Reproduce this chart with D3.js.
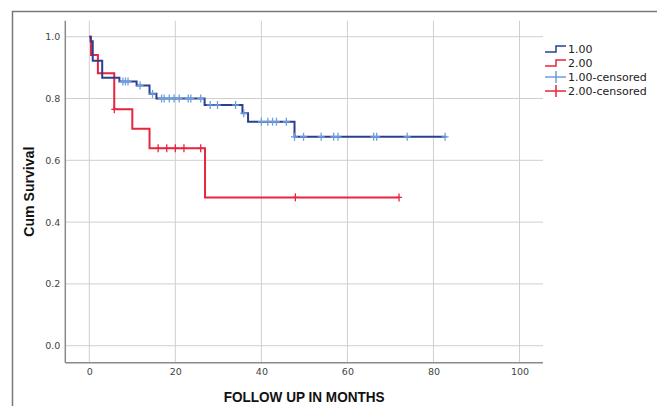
<!DOCTYPE html>
<html>
<head>
<meta charset="utf-8">
<script src="https://cdn.jsdelivr.net/npm/d3@7"></script>
<style>
  body { margin: 0; background: #fff; }
  svg { display: block; }
</style>
</head>
<body>
<div id="chart"></div>
<script>
// group 1.00 - step times (months) and cumulative survival after each step
const g1Times = [0, 0.3, 0.8, 3, 7, 11, 14, 15.6, 26.8, 35.6, 36.9, 47.7];
const g1Surv = [1, 0.985, 0.922, 0.867, 0.855, 0.842, 0.815, 0.800, 0.779, 0.752, 0.725, 0.676];
const g1End = 83;
const g1Censored = [7.8, 8.4, 9.0, 11.8, 14.7, 16.8, 17.4, 18.6, 19.7, 20.9, 23.0, 23.6, 25.9,
  28.1, 29.8, 34.0, 35.9, 40.0, 41.5, 42.6, 43.5, 45.8, 47.7, 49.8, 53.9, 56.8, 57.8,
  66.1, 66.8, 73.9, 82.7];

// group 2.00
const g2Times = [0, 0.4, 2, 5.8, 10, 14, 26.9];
const g2Surv = [1, 0.941, 0.882, 0.765, 0.702, 0.639, 0.480];
const g2End = 72;
const g2Censored = [5.8, 16, 18, 20, 22, 25.9, 47.9, 72];

const xTicks = [0, 20, 40, 60, 80, 100];
const yTicks = [0, 0.2, 0.4, 0.6, 0.8, 1.0];
const legendLabels = ['1.00', '2.00', '1.00-censored', '2.00-censored'];

const W = 657, H = 406;
const blueLine = '#2c3f8f', blueCens = '#6b9fe0', redLine = '#e8253f';

const svg = d3.select('#chart').append('svg')
  .attr('width', W).attr('height', H);

svg.append('rect').attr('width', W).attr('height', H).attr('fill', '#fff');

// outer frame (left and top edges visible)
svg.append('path')
  .attr('d', 'M12.5,' + H + 'V11.5H' + W)
  .attr('fill', 'none').attr('stroke', '#777').attr('stroke-width', 1.5);

const x = d3.scaleLinear().domain([0, 100]).range([89.3, 519.5]);
const y = d3.scaleLinear().domain([0, 1]).range([345.7, 36.7]);

const plot = { left: 65.3, right: 543, top: 20.7, bottom: 362.7 };

// grid
svg.append('g').selectAll('line').data(xTicks).enter().append('line')
  .attr('x1', d => x(d)).attr('x2', d => x(d))
  .attr('y1', plot.top).attr('y2', plot.bottom)
  .attr('stroke', '#cfcfcf').attr('stroke-width', 1);
svg.append('g').selectAll('line').data(yTicks).enter().append('line')
  .attr('y1', d => y(d)).attr('y2', d => y(d))
  .attr('x1', plot.left).attr('x2', plot.right)
  .attr('stroke', '#cfcfcf').attr('stroke-width', 1);

// axes
svg.append('g')
  .attr('transform', 'translate(0,' + plot.bottom + ')')
  .call(d3.axisBottom(x).tickValues(xTicks).tickSize(0).tickPadding(6))
  .call(g => g.select('.domain').attr('d', 'M' + plot.left + ',0H' + plot.right)
    .attr('stroke', '#8a8a8a').attr('stroke-width', 1.5))
  .call(g => g.selectAll('.tick text').attr('fill', '#444')
    .style('font', '9.5px "DejaVu Sans", sans-serif'));

svg.append('g')
  .attr('transform', 'translate(' + plot.left + ',0)')
  .call(d3.axisLeft(y).tickValues(yTicks).tickFormat(d3.format('.1f')).tickSize(0).tickPadding(5))
  .call(g => g.select('.domain').attr('d', 'M0,' + plot.top + 'V' + plot.bottom)
    .attr('stroke', '#8a8a8a').attr('stroke-width', 1.5))
  .call(g => g.selectAll('.tick text').attr('fill', '#444')
    .style('font', '9.5px "DejaVu Sans", sans-serif'));

// axis titles
svg.append('text')
  .attr('x', (plot.left + plot.right) / 2).attr('y', 402)
  .attr('text-anchor', 'middle')
  .attr('textLength', 161).attr('lengthAdjust', 'spacingAndGlyphs')
  .style('font', 'bold 15px "Liberation Sans", sans-serif')
  .attr('fill', '#111')
  .text('FOLLOW UP IN MONTHS');

svg.append('text')
  .attr('transform', 'translate(34,' + ((plot.top + plot.bottom) / 2) + ') rotate(-90)')
  .attr('text-anchor', 'middle')
  .attr('textLength', 90).attr('lengthAdjust', 'spacingAndGlyphs')
  .style('font', 'bold 15px "Liberation Sans", sans-serif')
  .attr('fill', '#111')
  .text('Cum Survival');

// survival step curves
function stepPoints(times, surv, end) {
  const pts = times.map((t, i) => [t, surv[i]]);
  pts.push([end, surv[surv.length - 1]]);
  return pts;
}
function survAt(times, surv, t) {
  let s = surv[0];
  times.forEach((tt, i) => { if (t >= tt) s = surv[i]; });
  return s;
}

const line = d3.line().curve(d3.curveStepAfter)
  .x(d => x(d[0])).y(d => y(d[1]));

svg.append('path')
  .datum(stepPoints(g2Times, g2Surv, g2End))
  .attr('d', line).attr('fill', 'none')
  .attr('stroke', redLine).attr('stroke-width', 2);

svg.append('path')
  .datum(stepPoints(g1Times, g1Surv, g1End))
  .attr('d', line).attr('fill', 'none')
  .attr('stroke', blueLine).attr('stroke-width', 2);

// censor marks
function censorMarks(times, surv, cens, color, hw) {
  const g = svg.append('g').attr('stroke', color).attr('stroke-width', 1.3);
  cens.forEach(t => {
    const cx = x(t), cy = y(survAt(times, surv, t));
    g.append('line').attr('x1', cx).attr('x2', cx).attr('y1', cy - 4).attr('y2', cy + 4);
    g.append('line').attr('x1', cx - hw).attr('x2', cx + hw).attr('y1', cy).attr('y2', cy);
  });
}
censorMarks(g2Times, g2Surv, g2Censored, redLine, 3);
censorMarks(g1Times, g1Surv, g1Censored, blueCens, 3.5);

// legend
const legX = 545, legY = [49, 63, 77, 91];
const leg = svg.append('g');
const legColors = [blueLine, redLine, blueCens, redLine];
legendLabels.forEach((lab, i) => {
  const cy = legY[i];
  if (i < 2) {
    leg.append('path')
      .attr('d', 'M' + legX + ',' + (cy + 3) + 'H' + (legX + 11) + 'V' + (cy - 3) + 'H' + (legX + 21))
      .attr('fill', 'none').attr('stroke', legColors[i]).attr('stroke-width', 1.5);
  } else {
    leg.append('path')
      .attr('d', 'M' + legX + ',' + cy + 'H' + (legX + 21) + 'M' + (legX + 11) + ',' + (cy - 6) + 'V' + (cy + 6))
      .attr('fill', 'none').attr('stroke', legColors[i]).attr('stroke-width', 1.5);
  }
  leg.append('text')
    .attr('x', legX + 23).attr('y', cy).attr('dy', '0.35em')
    .attr('fill', '#222')
    .style('font', '11px "DejaVu Sans", sans-serif')
    .text(lab);
});
</script>
</body>
</html>
